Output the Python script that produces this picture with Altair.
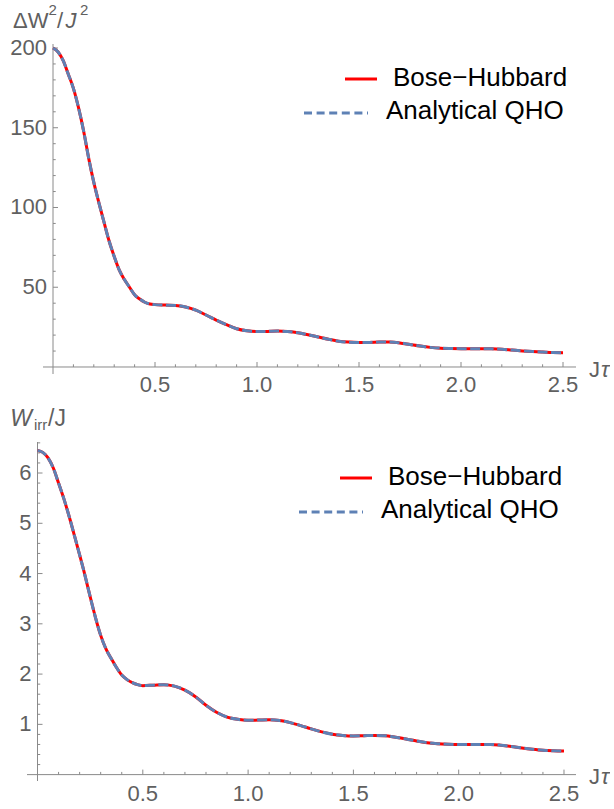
import altair as alt
import pandas as pd
import numpy as np

# ---------------- data ----------------
t_vals = [0, 0.025, 0.05, 0.075, 0.1, 0.125, 0.15, 0.175, 0.2, 0.225, 0.25, 0.275,
          0.3, 0.325, 0.35, 0.375, 0.4, 0.425, 0.45, 0.475, 0.5,
          0.55, 0.6, 0.65, 0.7, 0.75, 0.8, 0.85, 0.9, 0.95, 1.0,
          1.05, 1.1, 1.15, 1.2, 1.25, 1.3, 1.35, 1.4, 1.45, 1.5,
          1.55, 1.6, 1.65, 1.7, 1.75, 1.8, 1.85, 1.9, 1.95, 2.0,
          2.05, 2.1, 2.15, 2.2, 2.25, 2.3, 2.35, 2.4, 2.45, 2.5]

dw2_vals = [200, 197.5, 192, 183.5, 174.7, 162.6, 148, 130.8, 115.7, 102.9, 90.8, 79,
            69.3, 60.7, 54.8, 50.0, 45.3, 42.6, 40.6, 39.5, 39.1,
            38.8, 38.6, 37.6, 35.6, 32.6, 29.4, 26.5, 24.0, 22.7, 22.2,
            22.3, 22.5, 22.2, 21.5, 20.2, 18.8, 17.4, 16.2, 15.6, 15.4,
            15.4, 15.6, 15.6, 15.1, 14.1, 13.1, 12.3, 11.8, 11.6, 11.5,
            11.5, 11.5, 11.4, 11.1, 10.6, 10.1, 9.7, 9.4, 9.1, 9.0]

wirr_vals = [6.45, 6.41, 6.30, 6.10, 5.80, 5.49, 5.14, 4.76, 4.37, 3.97, 3.54, 3.13,
             2.77, 2.50, 2.31, 2.13, 1.98, 1.89, 1.83, 1.79, 1.77,
             1.78, 1.79, 1.76, 1.68, 1.55, 1.38, 1.24, 1.145, 1.10, 1.08,
             1.085, 1.09, 1.075, 1.035, 0.975, 0.91, 0.85, 0.805, 0.78, 0.77,
             0.775, 0.78, 0.775, 0.745, 0.71, 0.67, 0.635, 0.615, 0.605, 0.60,
             0.60, 0.60, 0.60, 0.585, 0.56, 0.53, 0.505, 0.485, 0.475, 0.47]

series_names = ["Bose\u2212Hubbard", "Analytical QHO"]

x_major = [0.5, 1.0, 1.5, 2.0, 2.5]
x_major_labels = ["0.5", "1.0", "1.5", "2.0", "2.5"]
x_minor = [round(v, 1) for v in np.arange(0.1, 2.45, 0.1) if round(v * 10) % 5 != 0]

top_y_major = [50, 100, 150, 200]
top_y_labels = ["50", "100", "150", "200"]
top_y_minor = [v for v in range(10, 200, 10) if v % 50 != 0]

bot_y_major = [1, 2, 3, 4, 5, 6]
bot_y_labels = ["1", "2", "3", "4", "5", "6"]
bot_y_minor = [round(v, 1) for v in np.arange(0.2, 6.65, 0.2) if abs(v - round(v)) > 0.05]

# ---------------- style ----------------
FONT = "Liberation Sans"
AX = "#8a8a8a"
LAB = "#606060"
RED = "#ff0000"
BLUE = "#5e81b5"
DASH = [10, 3.5]
W = 549


def txt(s, x, y, size, italic=False, color="black", align="left", baseline="alphabetic"):
    return alt.Chart(pd.DataFrame({"s": [s]})).mark_text(
        align=align, baseline=baseline, fontSize=size, font=FONT,
        fontStyle="italic" if italic else "normal", color=color
    ).encode(x=alt.value(x), y=alt.value(y), text="s:N")


def legend(dx, dy):
    df = pd.DataFrame({"a": [0]})
    red = alt.Chart(df).mark_rule(color=RED, strokeWidth=3).encode(
        x=alt.value(318 + dx), x2=alt.value(350 + dx), y=alt.value(35 + dy))
    blue = alt.Chart(df).mark_rule(color=BLUE, strokeWidth=3, strokeDash=[8, 4.6]).encode(
        x=alt.value(277 + dx), x2=alt.value(341 + dx), y=alt.value(69 + dy))
    return [red, blue,
            txt(series_names[0], 366 + dx, 42 + dy, 26),
            txt(series_names[1], 359 + dx, 75 + dy, 26)]


def panel(values, xdom, ydom, height, xaxis_ext, yaxis_ext, ymaj, ylabs, ymin,
          xlab_dy, extras):
    xs = alt.Scale(domain=xdom, nice=False, zero=False)
    ys = alt.Scale(domain=ydom, nice=False, zero=False)
    X = lambda f: alt.X(f, scale=xs, axis=None)
    Y = lambda f: alt.Y(f, scale=ys, axis=None)

    df = pd.DataFrame({"t": t_vals, "v": values})
    red = alt.Chart(df).mark_line(color=RED, strokeWidth=3, interpolate="monotone").encode(
        x=X("t:Q"), y=Y("v:Q"))
    blue = alt.Chart(df).mark_line(color=BLUE, strokeWidth=3, strokeDash=DASH,
                                   interpolate="monotone").encode(x=X("t:Q"), y=Y("v:Q"))

    xline = alt.Chart(pd.DataFrame({"a": [xaxis_ext[0]], "b": [xaxis_ext[1]], "z": [0]})).mark_rule(
        color=AX, strokeWidth=1).encode(x=X("a:Q"), x2="b:Q", y=Y("z:Q"))
    yline = alt.Chart(pd.DataFrame({"a": [yaxis_ext[0]], "b": [yaxis_ext[1]], "z": [0]})).mark_rule(
        color=AX, strokeWidth=1).encode(y=Y("a:Q"), y2="b:Q", x=X("z:Q"))

    def xticks(pos, ln):
        d = pd.DataFrame({"p": pos, "z": [0] * len(pos)})
        return alt.Chart(d).mark_rule(color=AX, strokeWidth=1, y2Offset=-ln).encode(
            x=X("p:Q"), y=Y("z:Q"), y2="z:Q")

    def yticks(pos, ln):
        d = pd.DataFrame({"p": pos, "z": [0] * len(pos)})
        return alt.Chart(d).mark_rule(color=AX, strokeWidth=1, x2Offset=ln).encode(
            y=Y("p:Q"), x=X("z:Q"), x2="z:Q")

    xl = alt.Chart(pd.DataFrame({"p": x_major, "z": [0] * len(x_major), "l": x_major_labels})).mark_text(
        align="center", baseline="middle", dy=xlab_dy, fontSize=22, font=FONT, color=LAB).encode(
        x=X("p:Q"), y=Y("z:Q"), text="l:N")
    yl = alt.Chart(pd.DataFrame({"p": ymaj, "z": [0] * len(ymaj), "l": ylabs})).mark_text(
        align="right", baseline="middle", dx=-6, fontSize=22, font=FONT, color=LAB).encode(
        x=X("z:Q"), y=Y("p:Q"), text="l:N")

    layers = [xline, yline, xticks(x_major, 5), xticks(x_minor, 2.7),
              yticks(ymaj, 5), yticks(ymin, 2.7), xl, yl, red, blue] + extras
    return alt.layer(*layers).properties(width=W, height=height)


# top panel: plot area origin at (26, 43) in page pixels
top_extras = [
    alt.Chart(pd.DataFrame({"a": [0]})).mark_rule(color="white", strokeWidth=1).encode(
        x=alt.value(-26), x2=alt.value(-25), y=alt.value(-43)),
    txt("\u0394W", -14, -16.3, 22, color=LAB),
    txt("2", 21.5, -29.5, 15, color=LAB),
    txt("/", 30, -16.3, 22, color=LAB),
    txt("J", 38.5, -16.3, 22, italic=True, color=LAB),
    txt("2", 53, -29.5, 15, color=LAB),
    txt("J", 562, 333, 22, color=LAB),
    txt("\u03c4", 574, 333, 22, italic=True, color=LAB),
] + legend(0, 0)

top = panel(dw2_vals, [-0.1275, 2.5637], [-4.39, 202.5], 330,
            [-0.049, 2.5637], [-4.39, 202.5], top_y_major, top_y_labels, top_y_minor,
            18, top_extras)

# bottom panel: plot area origin at (26, 441)
bot_extras = [
    txt("W", -16.7, -16, 23, italic=True, color=LAB),
    txt("irr", 7, -12.5, 15, color=LAB),
    txt("/J", 21, -16, 23, color=LAB),
    txt("J", 562, 342, 22, color=LAB),
    txt("\u03c4", 574, 342, 22, italic=True, color=LAB),
] + legend(-5, 1)

bot = panel(wirr_vals, [-0.0499, 2.557], [-0.127, 6.617], 339,
            [-0.0499, 2.557], [-0.127, 6.617], bot_y_major, bot_y_labels, bot_y_minor,
            19, bot_extras)

chart = alt.vconcat(top, bot, spacing=68, bounds="flush").properties(
    padding={"left": 0, "top": 0, "right": 0, "bottom": 0},
    background="white",
).configure_view(stroke=None)

chart.save("out.html", embed_options={"renderer": "svg", "actions": False})
